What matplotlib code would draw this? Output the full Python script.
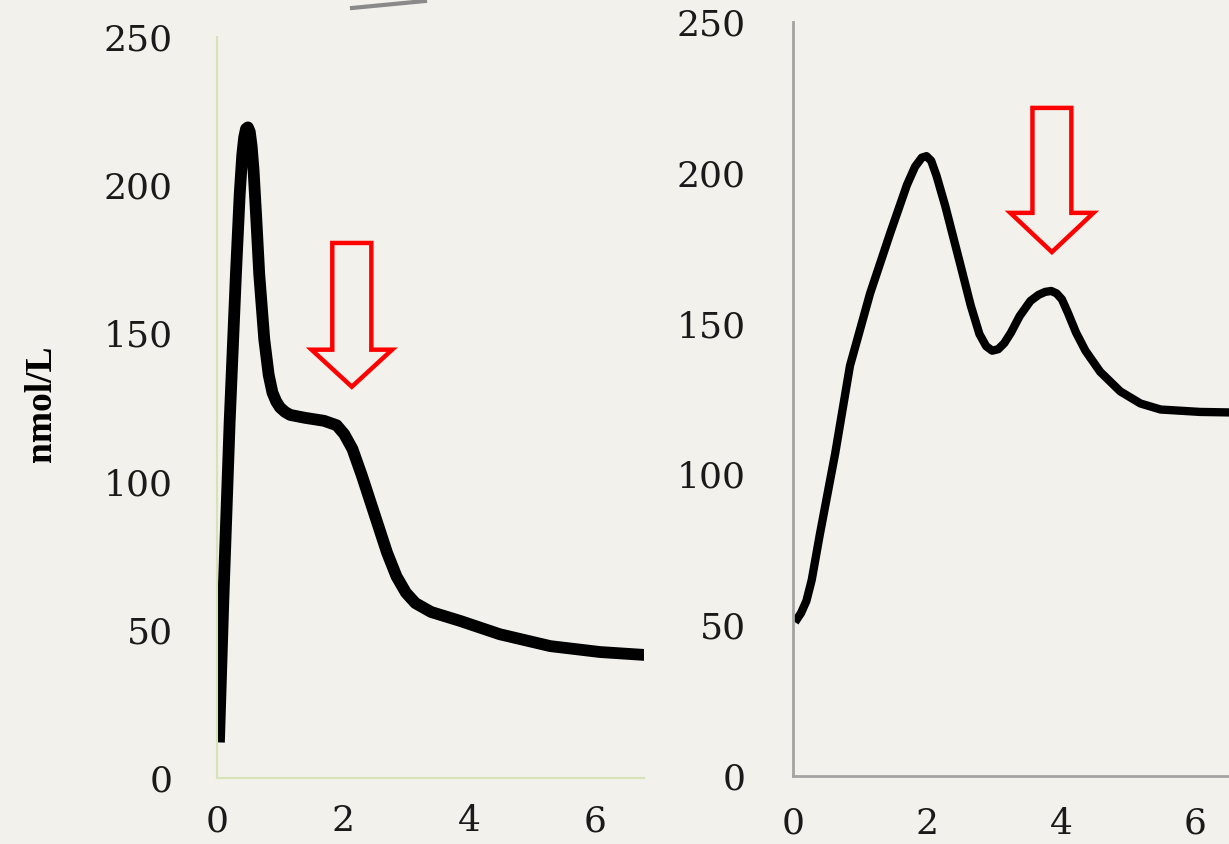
import numpy as np
import matplotlib.pyplot as plt
from matplotlib.patches import Polygon

# data
left_x = [0.03, 0.10, 0.20, 0.30, 0.36, 0.40, 0.43, 0.46, 0.49, 0.52, 0.55, 0.58, 0.62, 0.67, 0.75,
          0.82, 0.88, 0.94, 1.00, 1.08, 1.16, 1.40, 1.70, 1.90, 2.02, 2.15, 2.30, 2.50, 2.70, 2.85,
          3.00, 3.15, 3.40, 3.86, 4.49, 5.29, 6.08, 6.80]
left_y = [12, 60, 120, 170, 197, 210, 216, 219, 219.5, 218, 213, 205, 190, 170, 148,
          136, 130, 127, 125, 123.5, 122.5, 121.5, 120.5, 119, 116, 111, 102, 89, 76, 68,
          62.5, 59, 56, 53, 48.5, 44.5, 42.5, 41.5]

right_x = [0.03, 0.12, 0.20, 0.28, 0.40, 0.63, 0.85, 1.15, 1.45, 1.70, 1.82, 1.92, 1.99, 2.06, 2.14,
           2.27, 2.49, 2.65, 2.78, 2.88, 2.97, 3.06, 3.15, 3.25, 3.38, 3.54, 3.66, 3.76, 3.85, 3.93,
           4.01, 4.10, 4.22, 4.36, 4.58, 4.88, 5.18, 5.48, 6.07, 6.60]
right_y = [51, 54, 58, 65, 80, 107, 136, 160, 180, 196, 202, 205, 205.5, 204, 199,
           189, 170, 156, 146.5, 142.5, 141, 141.5, 143.5, 147, 152.5, 157.5, 159.5, 160.5, 160.8, 160,
           158, 153.5, 147, 141, 134, 127.5, 123.5, 121.5, 120.7, 120.5]

yticks = [0, 50, 100, 150, 200, 250]
xticks = [0, 2, 4, 6]

# block arrows: (centre x, top, shaft bottom, tip, shaft half width, head half width)
left_arrow = (2.14, 180.5, 144.5, 132, 0.31, 0.64)
right_arrow = (3.86, 221.5, 186.7, 173.7, 0.29, 0.62)

bg = '#f2f1ec'
plt.rcParams['font.family'] = ['DejaVu Serif']

fig = plt.figure(figsize=(12.29, 8.44), dpi=100, facecolor=bg)
ax1 = fig.add_axes([0.1766, 0.0782, 0.3474, 0.8780])
ax2 = fig.add_axes([0.6452, 0.0806, 0.3548, 0.8934])


def block_arrow(ax, a):
    cx, top, sb, tip, sw, hw = a
    pts = [(cx - sw, top), (cx + sw, top), (cx + sw, sb), (cx + hw, sb), (cx, tip),
           (cx - hw, sb), (cx - sw, sb)]
    ax.add_patch(Polygon(pts, closed=True, fill=False, ec='#ff0000', lw=3.2,
                         joinstyle='miter', zorder=5))


def style(ax, xmax, spine_col, spine_w, ypad, xpad):
    ax.set_facecolor(bg)
    ax.set_xlim(0, xmax)
    ax.set_ylim(0, 250)
    ax.set_yticks(yticks)
    ax.set_xticks(xticks)
    for s in ['top', 'right']:
        ax.spines[s].set_visible(False)
    for s in ['left', 'bottom']:
        ax.spines[s].set_color(spine_col)
        ax.spines[s].set_linewidth(spine_w)
    ax.tick_params(axis='y', length=0, pad=ypad, labelsize=26, labelcolor='#1a1a1a')
    ax.tick_params(axis='x', length=0, pad=xpad, labelsize=26, labelcolor='#1a1a1a')


ax1.plot(left_x, left_y, color='black', lw=8.5, solid_capstyle='butt', solid_joinstyle='round')
style(ax1, 6.78, '#d6e2b8', 1.5, 32, 19)
block_arrow(ax1, left_arrow)
ax1.set_ylabel('nmol/L', family=['Liberation Serif'], fontweight='bold', fontsize=27)
ax1.yaxis.set_label_coords(-0.37, 0.505)

ax2.plot(right_x, right_y, color='black', lw=6, solid_capstyle='butt', solid_joinstyle='round')
style(ax2, 6.5, '#a3a3a3', 2.0, 34, 22)
block_arrow(ax2, right_arrow)

# small grey fragment at the top edge
fig.add_artist(plt.Line2D([352 / 1229, 425 / 1229], [1 - 8 / 844, 1 - 1 / 844],
                          color='#8a8a8a', lw=3))

fig.savefig('out.png', dpi=100, facecolor=bg)
